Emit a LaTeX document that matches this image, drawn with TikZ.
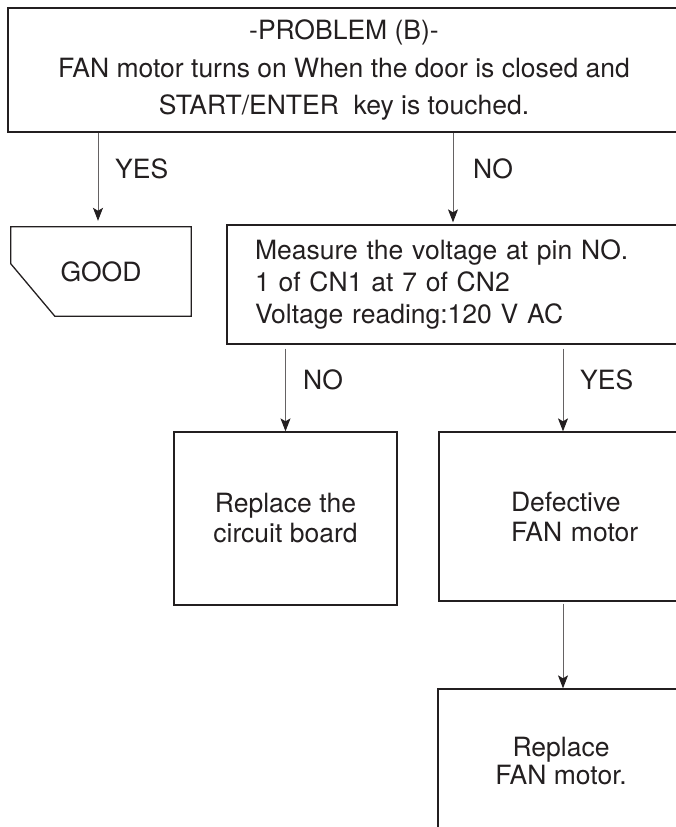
\documentclass[tikz,border=0pt]{standalone}
\usepackage{fontspec}
\setmainfont{TeX Gyre Heros}
\usetikzlibrary{arrows.meta}
\definecolor{ink}{HTML}{231F20}
\begin{document}
\begin{tikzpicture}[x=1pt,y=-1pt,
  every node/.style={font=\fontsize{26.5}{30}\selectfont, text=ink},
  box/.style={draw=ink, line width=1.3pt, inner sep=0pt},
  arr/.style={draw=ink!70, line width=1pt, -{Stealth[length=13pt,width=10pt,inset=3pt,color=ink]}},
  lbl/.style={anchor=west, inner sep=0pt}]
\useasboundingbox (0,0) rectangle (676,827);
\clip (0,0) rectangle (676,827);
% boxes
\node[box, minimum width=672pt, minimum height=124pt, align=center,
      font=\fontsize{26.5}{37.5}\selectfont] (top) at (344,70)
  {-PROBLEM (B)-\\FAN motor turns on When the door is closed and\\START/ENTER\ \ key is touched.};
\node[minimum width=180pt, minimum height=89pt, inner sep=0pt] (good) at (101,271.5) {GOOD};
\draw[ink, line width=1.3pt] (good.north west) -- (good.north east) -- (good.south east)
  -- ([xshift=44pt]good.south west) -- ([yshift=-37pt]good.north west) -- cycle;
\node[box, minimum width=480pt, minimum height=119pt, text width=424pt, inner xsep=28pt,
      align=left, font=\fontsize{26.5}{32}\selectfont] (measure) at (467,284.5)
  {Measure the voltage at pin NO.\\1 of CN1 at 7 of CN2\\Voltage reading:120 V AC};
\node[box, minimum width=223pt, minimum height=173pt, align=center] (board) at (285.5,518.5)
  {Replace the\\circuit board};
\node[box, minimum width=274pt, minimum height=169pt, text width=130pt, inner xsep=72pt,
      align=left] (defect) at (576,516.5) {Defective\\FAN motor};
\node[box, minimum width=246pt, minimum height=144pt, align=center,
      font=\fontsize{26.5}{28}\selectfont] (fanrep) at (561,761) {Replace\\FAN motor.};
% connectors
\coordinate (gtip) at ([xshift=-3pt,yshift=6pt]good.north);
\draw[arr] (gtip |- top.south) -- (gtip);
\coordinate (mtip) at ([xshift=-14pt,yshift=2pt]measure.north);
\draw[arr] (mtip |- top.south) -- (mtip);
\coordinate (mb) at ([yshift=-4pt]measure.south);
\draw[arr] (mb -| board.north) -- (board.north);
\coordinate (dtip) at ([xshift=-13pt]defect.north);
\draw[arr] (mb -| dtip) -- (dtip);
\coordinate (db) at ([yshift=-2pt]defect.south);
\coordinate (ftip) at ([xshift=2pt]fanrep.north);
\draw[arr] (db -| ftip) -- (ftip);
% labels
\node[lbl] (yes1) at (115,169) {YES};
\node[lbl] (no1) at (473,169) {NO};
\node[lbl] (no2) at (303,380) {NO};
\node[lbl] (yes2) at (580,380) {YES};
\end{tikzpicture}
\end{document}
